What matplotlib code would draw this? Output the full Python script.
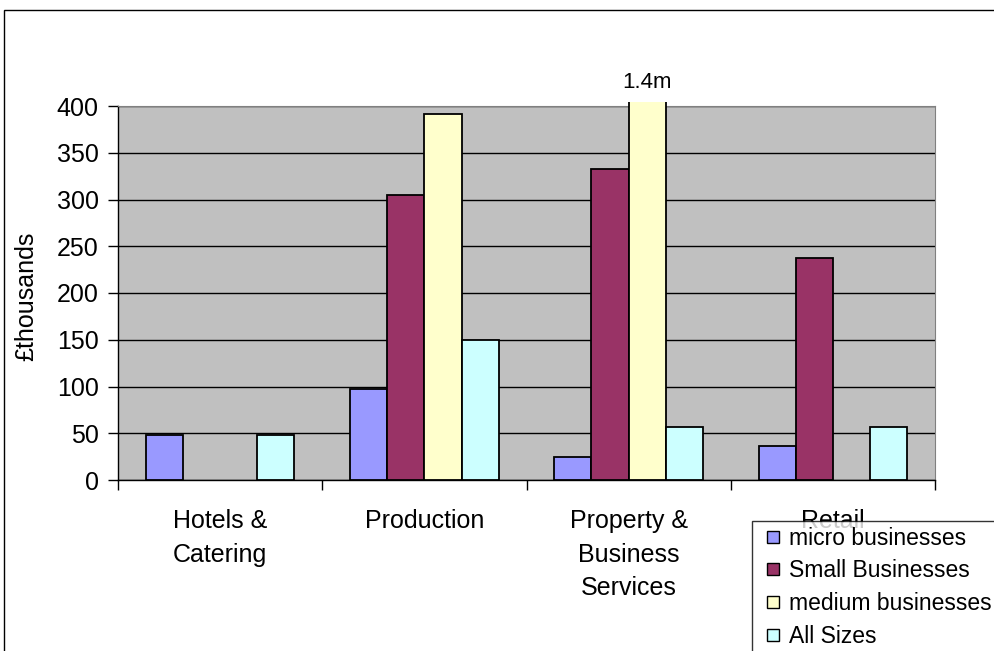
import matplotlib
matplotlib.use("Agg")
import matplotlib.pyplot as plt
import matplotlib.patches as mpatches
from matplotlib.lines import Line2D
import numpy as np

plt.rcParams['font.family'] = ['Liberation Sans', 'DejaVu Sans']

categories = ["Hotels &\nCatering", "Production", "Property &\nBusiness\nServices", "Retail"]
series = ["micro businesses", "Small Businesses", "medium businesses", "All Sizes"]
micro = [48, 97, 25, 36]
small = [0, 305, 333, 237]
medium = [0, 391, 1400, 0]
all_sizes = [48, 150, 57, 57]
colors = ["#9999FF", "#993366", "#FFFFCC", "#CCFFFF"]
yticks = [0, 50, 100, 150, 200, 250, 300, 350, 400]

fig = plt.figure(figsize=(9.95, 6.51), dpi=100)
ax = fig.add_axes([118 / 995, 1 - 480 / 651, (935 - 118) / 995, (480 - 106) / 651])
ax.set_facecolor("#C0C0C0")

x = np.arange(len(categories))
w = 0.182
# let the off-scale bar poke just above the plot area
clip = mpatches.Rectangle((0, 0), 1, 1.011, transform=ax.transAxes,
                          facecolor="none", edgecolor="none")
ax.add_patch(clip)
for i, (vals, c) in enumerate(zip([micro, small, medium, all_sizes], colors)):
    bars = ax.bar(x + (i - 1.5) * w, vals, w, color=c, edgecolor="black",
                  linewidth=1.3, zorder=3)
    for b, v in zip(bars, vals):
        b.set_clip_path(clip)
        if v == 0:
            b.set_visible(False)

ax.text(x[2] + 0.5 * w, 1.062, "1.4m", transform=ax.get_xaxis_transform(),
        ha="center", va="center", fontsize=16)

ax.set_xlim(-0.5, len(categories) - 0.5)
ax.set_ylim(0, 400)
ax.set_yticks(yticks)
ax.tick_params(axis="y", labelsize=18, length=7, width=1, direction="out", pad=7)
ax.yaxis.grid(True, color="black", linewidth=1, zorder=1)
ax.set_axisbelow(True)

ax.set_xticks(np.arange(len(categories) + 1) - 0.5)
ax.set_xticklabels([])
ax.tick_params(axis="x", length=7, width=1, direction="out")
for xi, lab in zip(x, categories):
    ax.text(xi, -0.078, lab, transform=ax.get_xaxis_transform(), ha="center",
            va="top", fontsize=18, linespacing=1.5)

for s in ["top", "right"]:
    ax.spines[s].set_color("#808080")
for s in ["left", "bottom"]:
    ax.spines[s].set_color("black")
    ax.spines[s].set_linewidth(1)

fig.text(26 / 995, 1 - 296 / 651, "£thousands", rotation=90, ha="center",
         va="center", fontsize=18)

# outer chart border
fig.patches.append(mpatches.Rectangle((4 / 995, -0.1), 1.1, 1.1 - 10 / 651,
                                      transform=fig.transFigure, fill=False,
                                      edgecolor="black", linewidth=1))

handles = [Line2D([], [], linestyle="none", marker="s", markersize=8.5,
                  markerfacecolor=c, markeredgecolor="black", markeredgewidth=1)
           for c in colors]
leg = fig.legend(handles, series, loc="upper left",
                 bbox_to_anchor=(752 / 995, 1 - 521 / 651), fontsize=16.5,
                 frameon=True, fancybox=False, edgecolor="black",
                 handlelength=1.3, handletextpad=0.05,
                 labelspacing=0.42, borderpad=0.25, borderaxespad=0)
leg.get_frame().set_linewidth(1)

fig.savefig("out.png", dpi=100)
